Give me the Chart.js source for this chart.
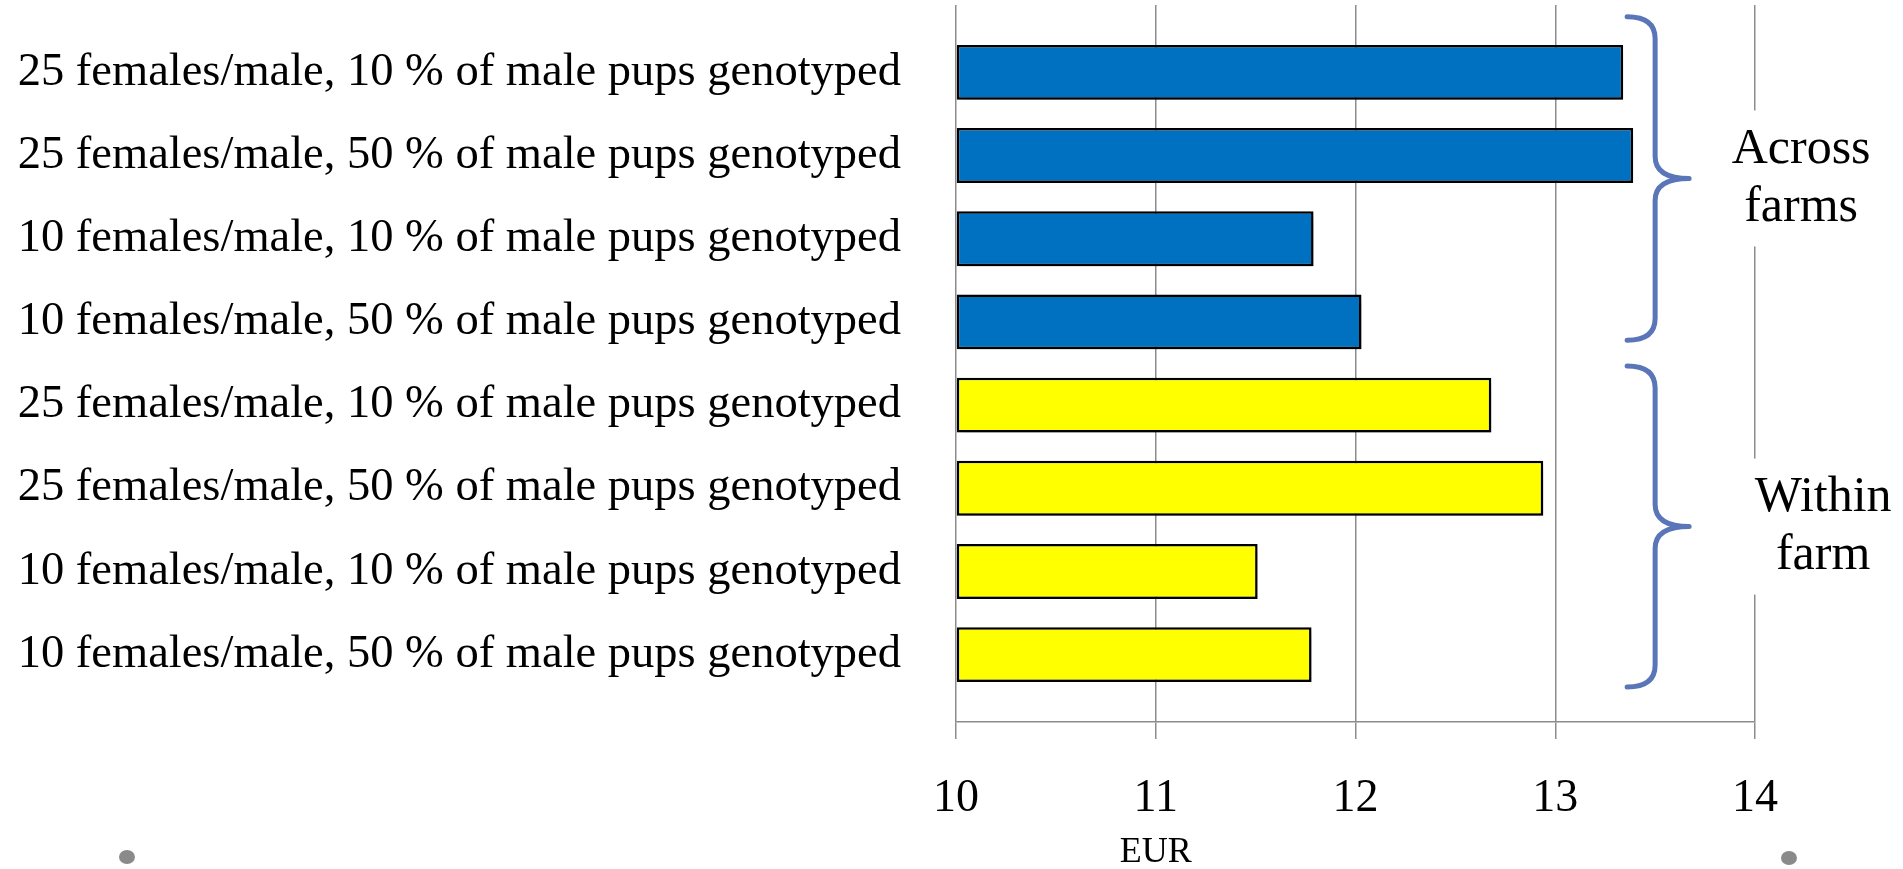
<!DOCTYPE html>
<html>
<head>
<meta charset="utf-8">
<script src="https://cdn.jsdelivr.net/npm/chart.js@4.4.1/dist/chart.umd.min.js"></script>
<style>
  html, body { margin: 0; padding: 0; background: #fff; }
  #wrap { width: 1903px; height: 869px; }
</style>
</head>
<body>
<div id="wrap"><canvas id="costChart"></canvas></div>
<script>
const scenarioLabels = [
  '25 females/male, 10 % of male pups genotyped',
  '25 females/male, 50 % of male pups genotyped',
  '10 females/male, 10 % of male pups genotyped',
  '10 females/male, 50 % of male pups genotyped',
  '25 females/male, 10 % of male pups genotyped',
  '25 females/male, 50 % of male pups genotyped',
  '10 females/male, 10 % of male pups genotyped',
  '10 females/male, 50 % of male pups genotyped'
];
const acrossFarms = [13.34, 13.39, 11.79, 12.03];
const withinFarm = [12.68, 12.94, 11.51, 11.78];
const xTicks = [10, 11, 12, 13, 14];
const groupNames = [['Across', 'farms'], ['Within', 'farm']];
// brace extent in row units (row 0 = top bar)
const groupSpans = [[-0.67, 3.22], [3.53, 7.39]];
const unitLabel = 'EUR';

const serif = '"Liberation Serif", "DejaVu Serif", serif';

// rows 0-3 across farms, rows 4-7 within farm
let acrossPoints = acrossFarms.map((v, i) => ({x: v, y: i}));
let withinPoints = withinFarm.map((v, i) => ({x: v, y: i + acrossFarms.length}));

const shadowPlugin = {
    id: 'barShadow',
    beforeDatasetsDraw(chart) {
        let c = chart.ctx;
        c.save();
        c.shadowColor = 'rgba(0,0,0,0.3)';
        c.shadowBlur = 7;
        c.shadowOffsetX = 3;
        c.shadowOffsetY = 6;
    },
    afterDatasetsDraw(chart) {
        chart.ctx.restore();
    }
};

const bracePlugin = {
    id: 'groupBraces',
    afterDatasetsDraw(chart) {
        const {ctx, scales: {x, y}} = chart;
        const textDx = [112, 134];
        ctx.save();
        groupSpans.forEach((span, g) => {
            let top = y.getPixelForValue(span[0]);
            let bottom = y.getPixelForValue(span[1]);
            let mid = (top + bottom) / 2;
            let xv = x.getPixelForValue(13.5);
            let xe = xv - 28, xt = xv + 34, r = 22;

            ctx.strokeStyle = '#5a76b8';
            ctx.lineWidth = 5;
            ctx.lineCap = 'round';
            ctx.beginPath();
            ctx.moveTo(xe, top);
            ctx.quadraticCurveTo(xv, top, xv, top + r);
            ctx.lineTo(xv, mid - r);
            ctx.quadraticCurveTo(xv, mid, xt, mid);
            ctx.moveTo(xt, mid);
            ctx.quadraticCurveTo(xv, mid, xv, mid + r);
            ctx.lineTo(xv, bottom - r);
            ctx.quadraticCurveTo(xv, bottom, xe, bottom);
            ctx.stroke();

            // label box hides the 14 gridline like the original text box
            let cx = xt + textDx[g];
            ctx.fillStyle = '#fff';
            ctx.fillRect(cx - 78, mid - 68, 156, 136);
            ctx.fillStyle = '#000';
            ctx.font = '50px ' + serif;
            ctx.textAlign = 'center';
            ctx.textBaseline = 'middle';
            ctx.fillText(groupNames[g][0], cx, mid - 29);
            ctx.fillText(groupNames[g][1], cx, mid + 29);
        });
        ctx.restore();
    },
    afterDraw(chart) {
        let c = chart.ctx;
        c.save();
        // unit label sits under the 11 tick, not centred on the axis
        c.fillStyle = '#000';
        c.font = '36px ' + serif;
        c.textAlign = 'center';
        c.textBaseline = 'middle';
        c.fillText(unitLabel, chart.scales.x.getPixelForValue(11), chart.height - 16);
        // the two grey slide bullets under the axis
        c.fillStyle = '#8a8a8a';
        [[127, 857], [1789, 858]].forEach(p => {
            c.beginPath();
            c.ellipse(p[0], p[1], 8, 7, 0, 0, Math.PI * 2);
            c.fill();
        });
        c.restore();
    }
};

new Chart(document.getElementById('costChart'), {
    type: 'bar',
    data: {
        datasets: [
            {
                label: 'Across farms',
                data: acrossPoints,
                backgroundColor: '#0070c0'
            },
            {
                label: 'Within farm',
                data: withinPoints,
                backgroundColor: '#ffff00'
            }
        ]
    },
    options: {
        indexAxis: 'y',
        responsive: true,
        maintainAspectRatio: false,
        animation: false,
        layout: {padding: {top: 5, right: 148, bottom: 0, left: 0}},
        datasets: {
            bar: {
                base: 10,
                grouped: false,
                borderColor: '#000',
                borderWidth: 2.5,
                borderSkipped: false,
                categoryPercentage: 1,
                barPercentage: 0.66
            }
        },
        scales: {
            x: {
                type: 'linear',
                bounds: 'data',
                min: xTicks[0],
                max: xTicks[xTicks.length - 1],
                afterBuildTicks: axis => { axis.ticks = xTicks.map(v => ({value: v})); },
                afterFit: axis => { axis.height = 147; },
                grid: {color: '#8c8c8c', lineWidth: 1.5, tickLength: 17},
                border: {color: '#8c8c8c', width: 1.5},
                ticks: {color: '#000', padding: 32, font: {family: serif, size: 46}}
            },
            y: {
                type: 'linear',
                bounds: 'data',
                offset: false,
                reverse: true,
                min: -0.81,
                max: 7.81,
                afterBuildTicks: axis => {
                    axis.ticks = scenarioLabels.map((_, i) => ({value: i}));
                },
                afterFit: axis => {
                    axis.width = 956;
                    axis.paddingTop = 0;
                    axis.paddingBottom = 0;
                },
                grid: {display: false, offset: false},
                border: {display: false},
                ticks: {
                    color: '#000',
                    padding: 47,
                    font: {family: serif, size: 46.5},
                    callback: v => scenarioLabels[v]
                }
            }
        },
        plugins: {
            legend: {display: false},
            tooltip: {enabled: false}
        }
    },
    plugins: [shadowPlugin, bracePlugin]
});
</script>
</body>
</html>
